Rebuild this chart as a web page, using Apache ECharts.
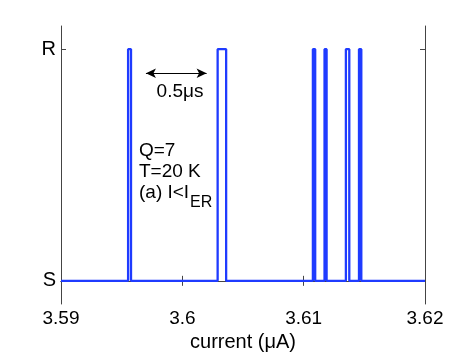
<!DOCTYPE html>
<html>
<head>
<meta charset="utf-8">
<script src="https://cdn.jsdelivr.net/npm/echarts@6/dist/echarts.min.js"></script>
<style>
  html, body { margin: 0; padding: 0; background: #fff; }
  #chart { width: 469px; height: 353px; }
</style>
</head>
<body>
<div id="chart"></div>
<script>
// switching events: current where the state goes S -> R and back R -> S
const pulseStart = [3.59553, 3.60291, 3.61076, 3.61172, 3.61348, 3.61456];
const pulseEnd = [3.59577, 3.60361, 3.61095, 3.61189, 3.61376, 3.61475];
const stateLabels = ['S', 'R'];   // y = 0, y = 1
const xTicks = [3.59, 3.6, 3.61, 3.62];
const arrowSpan = [3.5970, 3.6020]; // the 0.5 us marker
const arrowLevel = 0.896;

// build the step trace from the pulse list
const trace = [[xTicks[0], 0]];
pulseStart.forEach((s, i) => {
  trace.push([s, 0], [s, 1], [pulseEnd[i], 1], [pulseEnd[i], 0]);
});
trace.push([xTicks[xTicks.length - 1], 0]);

const font = 'Liberation Sans, Arial, sans-serif';
const axisColor = '#444';

const chart = echarts.init(document.getElementById('chart'));

const xBase = {
  type: 'value',
  min: xTicks[0],
  max: xTicks[xTicks.length - 1],
  interval: 0.01,
  splitLine: { show: false },
  axisLine: { lineStyle: { color: axisColor, width: 1 } },
  axisTick: { inside: true, length: 5, lineStyle: { color: axisColor } }
};
const yBase = {
  type: 'value',
  min: -0.1,
  max: 1.1,
  splitLine: { show: false },
  axisLine: { lineStyle: { color: axisColor, width: 1 } },
  axisTick: { inside: true, length: 5, customValues: [0, 1], lineStyle: { color: axisColor } }
};

function note(text, x, y, size, align) {
  return {
    type: 'text', x: x, y: y,
    style: {
      text: text, fontSize: size, fontFamily: font, fill: '#000',
      textAlign: align || 'left', textVerticalAlign: 'middle'
    }
  };
}

chart.setOption({
  animation: false,
  grid: { left: 61, right: 44, top: 26, bottom: 49, containLabel: false, outerBoundsMode: 'none' },
  xAxis: [
    Object.assign({}, xBase, {
      position: 'bottom',
      name: 'current (\u03bcA)',
      nameLocation: 'middle',
      nameGap: 25,
      nameTextStyle: { color: '#000', fontSize: 20, fontFamily: font },
      axisLabel: {
        color: '#000', fontSize: 19, fontFamily: font, margin: 5,
        showMinLabel: true, showMaxLabel: true,
        formatter: v => String(parseFloat(v.toFixed(3)))
      }
    }),
    Object.assign({}, xBase, { position: 'top', axisLabel: { show: false } })
  ],
  yAxis: [
    Object.assign({}, yBase, {
      position: 'left',
      axisLabel: {
        color: '#000', fontSize: 20, fontFamily: font, margin: 5,
        customValues: [0, 1],
        formatter: v => stateLabels[Math.round(v)]
      }
    }),
    Object.assign({}, yBase, { position: 'right', axisLabel: { show: false } })
  ],
  series: [{
    type: 'line',
    data: trace,
    symbol: 'none',
    lineStyle: { color: '#1f3bff', width: 2.3 },
    markLine: {
      silent: true,
      symbol: ['arrow', 'arrow'],
      symbolSize: [7, 10],
      label: { show: false },
      lineStyle: { color: '#000', width: 1.2, type: 'solid' },
      data: [[
        { coord: [arrowSpan[0], arrowLevel] },
        { coord: [arrowSpan[1], arrowLevel] }
      ]]
    }
  }],
  graphic: [
    note('0.5\u03bcs', 180, 92, 19, 'center'),
    note('Q=7', 139, 151, 19),
    note('T=20 K', 139, 172, 19),
    note('(a) I<I', 139, 192.5, 19),
    note('ER', 190, 202.5, 16)
  ]
});
</script>
</body>
</html>
